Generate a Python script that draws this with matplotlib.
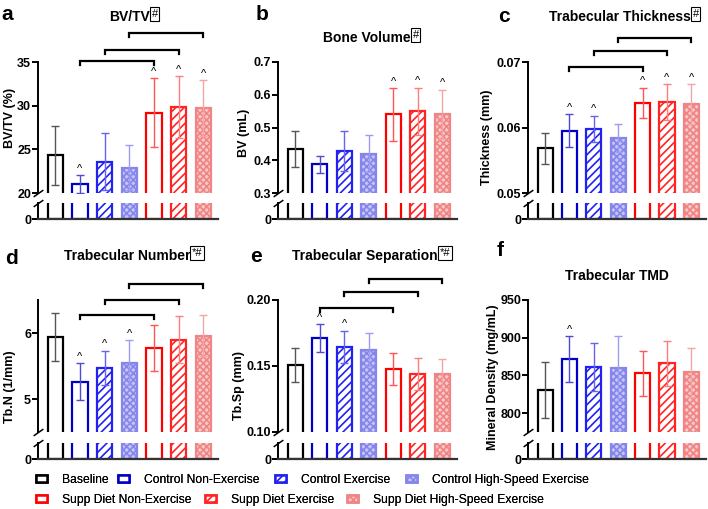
import numpy as np
import matplotlib
matplotlib.use("Agg")
import matplotlib.pyplot as plt
import matplotlib.patches as mpatches

plt.rcParams['font.family'] = ['Liberation Sans', 'DejaVu Sans']
plt.rcParams['hatch.linewidth'] = 1.2

# ---- data ----
groups = ['Baseline', 'Control Non-Exercise', 'Control Exercise',
          'Control High-Speed Exercise', 'Supp Diet Non-Exercise',
          'Supp Diet Exercise', 'Supp Diet High-Speed Exercise']

bvtv_mean = [24.3, 21.05, 23.6, 22.9, 29.2, 29.85, 29.7]
bvtv_err = [3.35, 1.0, 3.3, 2.55, 3.95, 3.55, 3.2]

bv_mean = [0.434, 0.388, 0.428, 0.420, 0.540, 0.549, 0.540]
bv_err = [0.056, 0.026, 0.061, 0.056, 0.080, 0.073, 0.075]

tbth_mean = [0.0568, 0.0595, 0.0598, 0.0584, 0.0638, 0.0639, 0.0636]
tbth_err = [0.0024, 0.0025, 0.0020, 0.0022, 0.0023, 0.0027, 0.0030]

tbn_mean = [5.94, 5.26, 5.47, 5.55, 5.77, 5.90, 5.96]
tbn_err = [0.37, 0.28, 0.26, 0.34, 0.35, 0.36, 0.31]

tbsp_mean = [0.151, 0.171, 0.1645, 0.1625, 0.148, 0.144, 0.144]
tbsp_err = [0.0128, 0.0105, 0.0123, 0.0125, 0.0122, 0.012, 0.011]

tmd_mean = [830.6, 871.7, 861.5, 859.4, 852.7, 866.0, 854.0]
tmd_err = [37, 30, 32, 43, 30, 30, 32.6]

# bars marked with ^
caret_a = [1, 4, 5, 6]
caret_b = [4, 5, 6]
caret_c = [1, 2, 4, 5, 6]
caret_d = [1, 2, 3]
caret_e = [1, 2]
caret_f = [1]

# comparison brackets (same group pairs in a, c, d, e)
bracket_pairs = [(1, 4), (2, 5), (3, 6)]
bracket_a = [35.1, 36.35, 38.3]
bracket_c = [0.0692, 0.0717, 0.0737]
bracket_d = [6.27, 6.5, 6.75]
bracket_e = [0.1937, 0.2058, 0.2159]

# ---- styles ----
edge_colors = ['#000000', '#0000c8', '#2222f0', '#8585ec', '#ff0000', '#ff2424', '#f08585']
face_colors = ['white', 'white', 'white', '#c6c6f6', 'white', 'white', '#f9c8c8']
hatches = [None, None, '////', 'xxxxx', None, '////', 'xxxxx']
err_colors = ['#555555', '#4c4cd8', '#6464f0', '#9c9cf0', '#ff5555', '#ff7c7c', '#f4a6a6']

W, H = 708, 509


def fx(x):
    return x / W


def fy(y):
    return 1 - y / H


def make_axes(fig, left, right, top, mid, bot_top, bottom):
    ax_top = fig.add_axes([fx(left), fy(mid), fx(right - left), (mid - top) / H])
    ax_bot = fig.add_axes([fx(left), fy(bottom), fx(right - left), (bottom - bot_top) / H])
    return ax_top, ax_bot


def draw_panel(ax_top, ax_bot, means, errs, ylim, ticks, ticklabels,
               carets, brackets=None):
    x = np.arange(len(means))
    for ax in (ax_top, ax_bot):
        for i in range(len(means)):
            ax.bar(x[i], means[i], width=0.62, color=face_colors[i],
                   edgecolor=edge_colors[i], hatch=hatches[i], linewidth=1.6,
                   zorder=2)
        ax.set_xlim(-0.7, 6.6)
        ax.set_xticks([])
        for s in ('top', 'right'):
            ax.spines[s].set_visible(False)
        ax.spines['left'].set_linewidth(1.4)
        ax.tick_params(axis='y', length=4, width=1.4, labelsize=9, pad=1)
    for i in range(len(means)):
        ax_top.errorbar(x[i], means[i], yerr=errs[i], fmt='none',
                        ecolor=err_colors[i], elinewidth=1.0, capsize=3,
                        capthick=1.0, zorder=3)
    ax_top.set_ylim(*ylim)
    ax_top.set_yticks(ticks)
    ax_top.set_yticklabels(ticklabels, fontweight='bold')
    ax_top.spines['bottom'].set_visible(False)

    # lower stub of the broken axis: bars run through it
    ax_bot.set_ylim(0, 0.1 * ylim[0])
    ax_bot.set_yticks([0])
    ax_bot.set_yticklabels(['0'], fontweight='bold')
    ax_bot.spines['bottom'].set_linewidth(1.6)
    ax_bot.spines['bottom'].set_color('#333333')

    # axis break marks
    for ax, yy in ((ax_top, 0), (ax_bot, 1)):
        ax.plot([0], [yy], transform=ax.transAxes, marker=[(-1, -0.7), (1, 0.7)],
                markersize=7, mew=1.1, color='k', clip_on=False, zorder=5)

    for i in carets:
        ax_top.annotate('^', xy=(i, means[i] + errs[i]), xytext=(0, 2.5),
                        textcoords='offset points', ha='center', va='baseline',
                        fontsize=8)

    if brackets is not None:
        d = 4.0 / 131 * (ylim[1] - ylim[0])
        for (i0, i1), yb in zip(bracket_pairs, brackets):
            ax_top.plot([i0, i0, i1, i1], [yb - d, yb, yb, yb - d], color='k',
                        lw=1.6, clip_on=False, solid_joinstyle='miter')


def boxed_title(fig, text, x_right, y, mark=None, box_dy=-3):
    fig.text(fx(x_right), fy(y), text, ha='right', va='center',
             fontsize=10, fontweight='bold')
    if mark:
        fig.text(fx(x_right + 1.5), fy(y + box_dy), mark, ha='left', va='center',
                 fontsize=8,
                 bbox=dict(boxstyle='square,pad=0.15', facecolor='white',
                           edgecolor='black', linewidth=0.8))


fig = plt.figure(figsize=(W / 100, H / 100), dpi=100)

cols = [(38, 218), (278, 457), (528, 706)]
row1 = (62, 193, 203, 219)
row2 = (300, 432, 443, 459)

# a
t, b = make_axes(fig, *cols[0], *row1)
draw_panel(t, b, bvtv_mean, bvtv_err, (20, 35), [20, 25, 30, 35],
           ['20', '25', '30', '35'], caret_a, bracket_a)
# b
t, b = make_axes(fig, *cols[1], *row1)
draw_panel(t, b, bv_mean, bv_err, (0.3, 0.7), [0.3, 0.4, 0.5, 0.6, 0.7],
           ['0.3', '0.4', '0.5', '0.6', '0.7'], caret_b)
# c
t, b = make_axes(fig, *cols[2], *row1)
draw_panel(t, b, tbth_mean, tbth_err, (0.05, 0.07), [0.05, 0.06, 0.07],
           ['0.05', '0.06', '0.07'], caret_c, bracket_c)
# d
t, b = make_axes(fig, *cols[0], *row2)
draw_panel(t, b, tbn_mean, tbn_err, (4.5, 6.5), [5, 6], ['5', '6'],
           caret_d, bracket_d)
# e
t, b = make_axes(fig, *cols[1], *row2)
draw_panel(t, b, tbsp_mean, tbsp_err, (0.10, 0.20), [0.10, 0.15, 0.20],
           ['0.10', '0.15', '0.20'], caret_e, bracket_e)
# f
t, b = make_axes(fig, *cols[2], *row2)
draw_panel(t, b, tmd_mean, tmd_err, (775, 950), [800, 850, 900, 950],
           ['800', '850', '900', '950'], caret_f)

# titles
boxed_title(fig, 'BV/TV', 150, 17, '#')
boxed_title(fig, 'Bone Volume', 411, 38, '#')
boxed_title(fig, 'Trabecular Thickness', 691, 17, '#')
boxed_title(fig, 'Trabecular Number', 190, 256, '*#')
boxed_title(fig, 'Trabecular Separation', 438, 256, '*#')
fig.text(fx(617), fy(276), 'Trabecular TMD', ha='center', va='center',
         fontsize=10, fontweight='bold')

# panel letters
for letter, (px, py) in zip('abcdef', [(7, 15), (262, 15), (504, 16),
                                        (12, 259), (256, 257), (500, 250)]):
    fig.text(fx(px), fy(py), letter, ha='center', va='center',
             fontsize=15, fontweight='bold')

# y labels
ylabels = ['BV/TV (%)', 'BV (mL)', 'Thickness (mm)', 'Tb.N (1/mm)',
           'Tb.Sp (mm)', 'Mineral Density (mg/mL)']
ylab_pos = [(10.5, 118), (244, 133), (487, 137), (10, 387), (239, 385), (493, 377)]
for lab, (px, py) in zip(ylabels, ylab_pos):
    fig.text(fx(px), fy(py), lab, rotation=90, ha='center', va='center',
             fontsize=9, fontweight='bold')

# legend: two free-flowing rows
handles = [mpatches.Patch(facecolor=face_colors[i], edgecolor=edge_colors[i],
                          hatch=hatches[i], linewidth=1.8, label=groups[i])
           for i in range(len(groups))]
leg_x = [[36, 118, 275, 406], [36, 205, 347]]
leg_y = [480, 500]
rows = [handles[:4], handles[4:]]
for r, hs in enumerate(rows):
    for h, px in zip(hs, leg_x[r]):
        leg = fig.legend(handles=[h], loc='center left',
                         bbox_to_anchor=(fx(px), fy(leg_y[r])), frameon=False,
                         fontsize=8.7, handlelength=0.95, handleheight=0.45,
                         handletextpad=1.2, borderpad=0, borderaxespad=0)
        fig.add_artist(leg)

fig.savefig('out.png', dpi=100)
